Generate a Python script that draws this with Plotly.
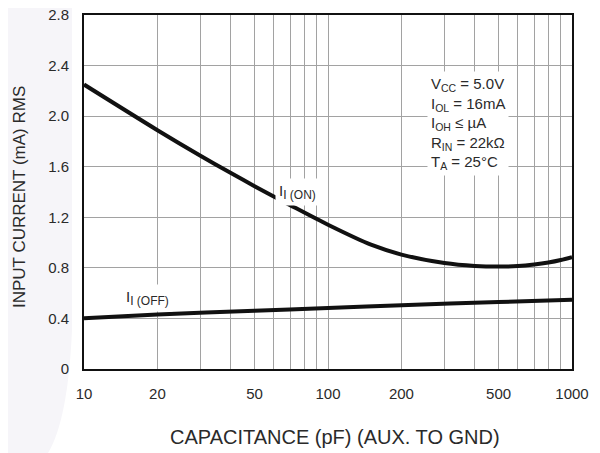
import plotly.graph_objects as go

cap_on = [10, 20, 30, 40, 50, 70, 100, 150, 200, 300, 400, 500, 600, 700, 800, 900, 1000]
i_on = [2.25, 1.889, 1.687, 1.55, 1.446, 1.296, 1.141, 0.983, 0.905, 0.838, 0.815, 0.810, 0.814, 0.826, 0.842, 0.862, 0.885]

cap_off = [10, 20, 50, 100, 200, 500, 1000]
i_off = [0.402, 0.432, 0.461, 0.482, 0.505, 0.530, 0.547]

x_ticks = [10, 20, 50, 100, 200, 500, 1000]
x_minor = [30, 40, 60, 70, 80, 90, 300, 400, 600, 700, 800, 900]
y_ticks = [0, 0.4, 0.8, 1.2, 1.6, 2.0, 2.4, 2.8]
y_ticktext = ["0", "0.4", "0.8", "1.2", "1.6", "2.0", "2.4", "2.8"]

FONT = "Liberation Sans, Arial, Helvetica, sans-serif"
TXT = "#2a2a2a"
GRID = "#a2a2a2"

fig = go.Figure()
fig.add_trace(go.Scatter(x=cap_on, y=i_on, mode="lines",
                         line=dict(color="#111111", width=4, shape="spline", smoothing=0.8),
                         hoverinfo="skip"))
fig.add_trace(go.Scatter(x=cap_off, y=i_off, mode="lines",
                         line=dict(color="#111111", width=4, shape="spline", smoothing=0.8),
                         hoverinfo="skip"))

fig.update_xaxes(
    type="log", range=[1, 3], automargin=False,
    tickvals=x_ticks, ticktext=[str(v) for v in x_ticks],
    ticks="", ticklabelstandoff=10, ticklabeloverflow="allow",
    showgrid=True, gridcolor=GRID, gridwidth=1,
    minor=dict(tickvals=x_minor, showgrid=True, gridcolor=GRID, gridwidth=1, ticks=""),
    showline=True, linecolor="#111111", linewidth=2, mirror=True,
    tickfont=dict(family=FONT, size=15, color=TXT),
    zeroline=False,
)
fig.update_yaxes(
    range=[0, 2.8], automargin=False,
    tickvals=y_ticks, ticktext=y_ticktext,
    ticks="", ticklabelstandoff=10, ticklabeloverflow="allow",
    showgrid=True, gridcolor=GRID, gridwidth=1,
    showline=True, linecolor="#111111", linewidth=2, mirror=True,
    tickfont=dict(family=FONT, size=15, color=TXT),
    zeroline=False,
)

# faint background swoosh on the left
def px_x(p):
    return (p - 84) / 488.0

def px_y(p):
    return (369 - p) / 354.0

path = "M {},{} L {},{} L {},{} Q {},{} {},{} L {},{} Z".format(
    px_x(0), px_y(0), px_x(72), px_y(0), px_x(72), px_y(330),
    px_x(68), px_y(420), px_x(48), px_y(453), px_x(0), px_y(453))
fig.add_shape(type="path", path=path, xref="paper", yref="paper",
              fillcolor="#f6f5f9", line=dict(width=0), layer="below")

# axis titles
fig.add_annotation(x=0.514, y=-0.192, xref="paper", yref="paper", xanchor="center", yanchor="middle",
                   text="CAPACITANCE (pF) (AUX. TO GND)", showarrow=False,
                   font=dict(family=FONT, size=20, color=TXT))
fig.add_annotation(x=-0.131, y=0.486, xref="paper", yref="paper", xanchor="center", yanchor="middle",
                   text="INPUT CURRENT (mA) RMS", showarrow=False, textangle=-90,
                   font=dict(family=FONT, size=17, color=TXT))

cond_lines = [
    "V<sub>CC</sub> = 5.0V",
    "I<sub>OL</sub> = 16mA",
    "I<sub>OH</sub> ≤ µA",
    "R<sub>IN</sub> = 22kΩ",
    "T<sub>A</sub> = 25°C",
]
fig.add_annotation(
    x=2.405, y=2.36, xref="x", yref="y", xanchor="left", yanchor="top",
    text="<br>".join(cond_lines), showarrow=False, align="left",
    bgcolor="white", borderpad=3,
    font=dict(family=FONT, size=15, color=TXT),
)
fig.add_annotation(
    x=1.873, y=1.40, xref="x", yref="y", xanchor="center", yanchor="middle",
    text="I<sub><span style='font-size:12px'>I (ON)</span></sub>", showarrow=False,
    bgcolor="white", borderpad=3,
    font=dict(family=FONT, size=15, color=TXT),
)
fig.add_annotation(
    x=1.262, y=0.56, xref="x", yref="y", xanchor="center", yanchor="middle",
    text="I<sub><span style='font-size:12px'>I (OFF)</span></sub>", showarrow=False,
    bgcolor="white", borderpad=3,
    font=dict(family=FONT, size=15, color=TXT),
)

# the page places the figure 8px in from the top-left corner; margins compensate
fig.update_layout(
    width=600, height=453,
    margin=dict(l=76, r=36, t=7, b=92),
    paper_bgcolor="white", plot_bgcolor="white",
    showlegend=False,
)

fig.write_html("out.html")
